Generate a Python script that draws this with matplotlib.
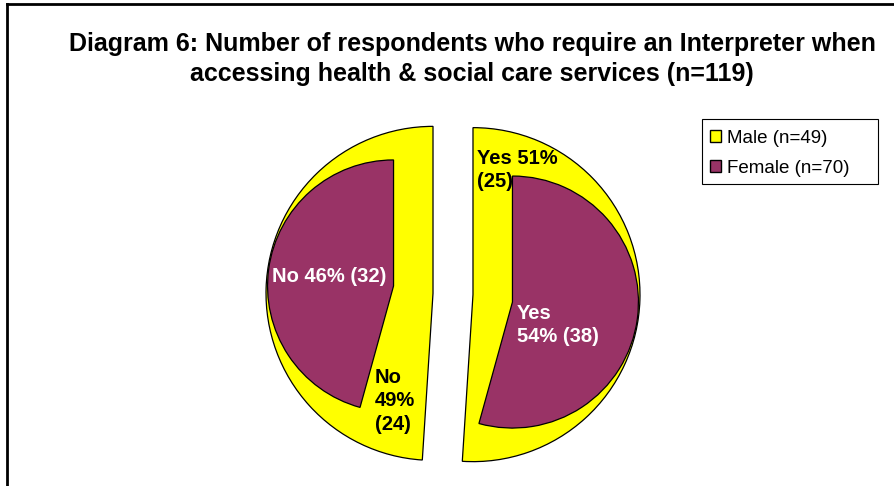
import matplotlib
matplotlib.use("Agg")
import matplotlib.pyplot as plt
from matplotlib.patches import Patch, Rectangle
from matplotlib.lines import Line2D

plt.rcParams["font.family"] = ["Liberation Sans", "DejaVu Sans"]

# data
answers = ["Yes", "No"]
male_counts = [25, 24]
female_counts = [38, 32]
groups = ["Male", "Female"]
colors = {"Male": "#FFFF00", "Female": "#993366"}

W, H = 894, 486
fig = plt.figure(figsize=(W / 100, H / 100), dpi=100)
ax = fig.add_axes([0, 0, 1, 1])

cx, cy = 453, 192
r_outer, r_inner = 167, 126

wedge_kw = dict(edgecolor="black", linewidth=0.9)
ax.pie(male_counts, radius=r_outer, center=(cx, cy), explode=[20, 20],
       colors=[colors["Male"]] * 2, startangle=90, counterclock=False,
       wedgeprops=wedge_kw)
ax.pie(female_counts, radius=r_inner, center=(cx, cy), explode=[60, 60],
       colors=[colors["Female"]] * 2, startangle=90, counterclock=False,
       wedgeprops=wedge_kw)

ax.set_xlim(0, W)
ax.set_ylim(0, H)
ax.set_aspect("equal")
ax.axis("off")


def pct(counts, i):
    return round(100 * counts[i] / sum(counts))


lab_kw = dict(fontsize=14.5, fontweight="bold", ha="left", va="center", linespacing=1.3)
ax.text(477, H - 170, f"{answers[0]} {pct(male_counts, 0)}%\n({male_counts[0]})",
        color="black", **lab_kw)
ax.text(375, H - 401, f"{answers[1]}\n{pct(male_counts, 1)}%\n({male_counts[1]})",
        color="black", **lab_kw)
ax.text(272, H - 277, f"{answers[1]} {pct(female_counts, 1)}% ({female_counts[1]})",
        color="white", **lab_kw)
ax.text(517, H - 325, f"{answers[0]}\n{pct(female_counts, 0)}% ({female_counts[0]})",
        color="white", **lab_kw)

fig.text(472 / W, 1 - 59 / H,
         "Diagram 6: Number of respondents who require an Interpreter when\n"
         "accessing health & social care services (n=%d)" % (sum(male_counts) + sum(female_counts)),
         ha="center", va="center", fontsize=18, fontweight="bold", linespacing=1.35)

# chart border (top and left edges)
fig.add_artist(Line2D([7 / W, 1], [1 - 4 / H, 1 - 4 / H], color="black", lw=2))
fig.add_artist(Line2D([7 / W, 7 / W], [0, 1 - 4 / H], color="black", lw=2))

# legend box drawn separately so it can be wider than its text
fig.add_artist(Rectangle((702 / W, 1 - 184 / H), 176 / W, 65 / H,
                         transform=fig.transFigure, facecolor="white",
                         edgecolor="black", linewidth=0.8))
handles = [
    Patch(facecolor=colors["Male"], edgecolor="black", label=f"Male (n={sum(male_counts)})"),
    Patch(facecolor=colors["Female"], edgecolor="black", label=f"Female (n={sum(female_counts)})"),
]
leg = fig.legend(handles=handles, loc="upper left",
                 bbox_to_anchor=(703 / W, 1 - 123 / H), fontsize=13.5,
                 frameon=False,
                 handlelength=0.6, handleheight=0.6, handletextpad=0.35,
                 borderpad=0.35, labelspacing=0.7, borderaxespad=0)

fig.savefig("out.png", dpi=100)
